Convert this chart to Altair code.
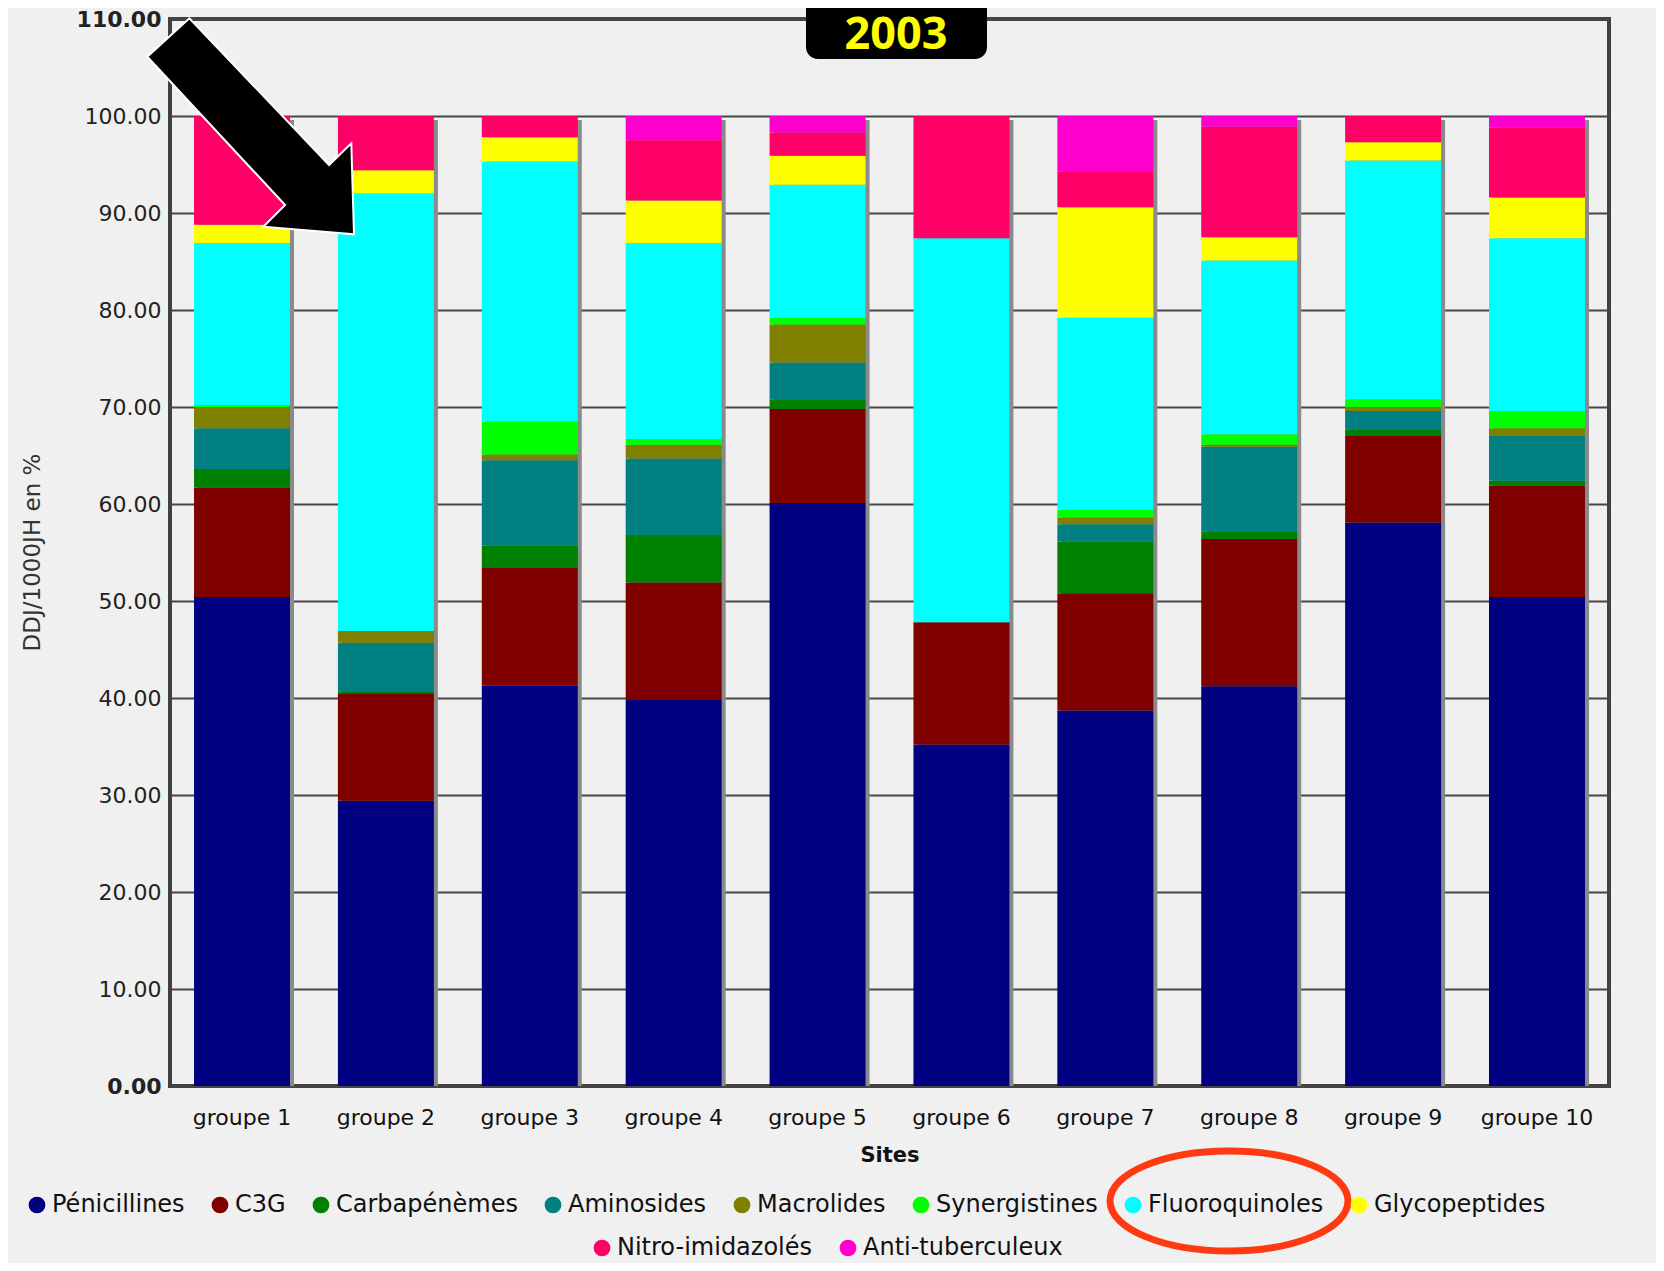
import altair as alt
import pandas as pd

groups = ["groupe 1", "groupe 2", "groupe 3", "groupe 4", "groupe 5",
          "groupe 6", "groupe 7", "groupe 8", "groupe 9", "groupe 10"]
categories = ["Pénicillines", "C3G", "Carbapénèmes", "Aminosides", "Macrolides",
              "Synergistines", "Fluoroquinoles", "Glycopeptides", "Nitro-imidazolés",
              "Anti-tuberculeux"]
colors = ["#000080", "#800000", "#008000", "#008080", "#808000",
          "#00FF00", "#00FFFF", "#FFFF00", "#FF0066", "#FF00CC"]

penicillines = [50.4, 29.4, 41.3, 39.8, 60.1, 35.2, 38.7, 41.2, 58.1, 50.4]
c3g = [11.3, 11.1, 12.1, 12.1, 9.7, 12.6, 12.1, 15.2, 8.9, 11.5]
carbapenemes = [1.9, 0.2, 2.3, 4.9, 1.0, 0.0, 5.3, 0.8, 0.7, 0.5]
aminosides = [4.2, 5.0, 8.8, 7.9, 3.8, 0.0, 1.8, 8.7, 1.9, 4.6]
macrolides = [2.2, 1.2, 0.6, 1.4, 3.9, 0.0, 0.7, 0.2, 0.4, 0.8]
synergistines = [0.2, 0.0, 3.4, 0.6, 0.7, 0.0, 0.8, 1.1, 0.8, 1.8]
fluoroquinoles = [16.7, 45.1, 26.8, 20.2, 13.7, 39.6, 19.8, 17.9, 24.6, 17.8]
glycopeptides = [1.9, 2.4, 2.5, 4.4, 3.0, 0.0, 11.4, 2.4, 1.9, 4.2]
nitro_imidazoles = [11.2, 5.6, 2.2, 6.2, 2.4, 12.6, 3.7, 11.4, 2.7, 7.2]
anti_tuberculeux = [0.0, 0.0, 0.0, 2.5, 1.7, 0.0, 5.7, 1.1, 0.0, 1.2]

y_ticks = [0, 10, 20, 30, 40, 50, 60, 70, 80, 90, 100, 110]
year_label = "2003"

series = [penicillines, c3g, carbapenemes, aminosides, macrolides, synergistines,
          fluoroquinoles, glycopeptides, nitro_imidazoles, anti_tuberculeux]
rows = []
for ci, (cat, vals) in enumerate(zip(categories, series)):
    for g, v in zip(groups, vals):
        rows.append({"groupe": g, "categorie": cat, "ordre": ci, "value": v})
df = pd.DataFrame(rows)
totals = df.groupby("groupe", as_index=False)["value"].sum()
one = pd.DataFrame({"a": [0]})

FONT = "DejaVu Sans"

x_enc = alt.X("groupe:N", sort=groups,
              scale=alt.Scale(paddingInner=0.333, paddingOuter=0.167),
              axis=alt.Axis(title="Sites", labelAngle=0, ticks=False, tickSize=0,
                            domain=False, grid=False, labelFont=FONT,
                            labelFontSize=22, labelColor="#111111",
                            labelBaseline="middle", labelPadding=31,
                            titleFont=FONT, titleFontSize=21, titleFontWeight="bold",
                            titleColor="#111111", titleY=69, titleBaseline="middle"))
y_axis = alt.Axis(title="DDJ/1000JH en %", values=y_ticks, format=".2f",
                  ticks=False, tickSize=0, domain=False,
                  grid=True, gridColor="#474747", gridWidth=2,
                  labelFont=FONT, labelFontSize=22, labelColor="#222222",
                  labelPadding=9,
                  labelFontWeight={"condition": {"test": "datum.value == 0 || datum.value == 110",
                                                 "value": "bold"}, "value": "normal"},
                  titleFont=FONT, titleFontSize=23, titleFontWeight="normal",
                  titleColor="#333333", titleX=-138, titleY=533, titleBaseline="middle")
y_scale = alt.Scale(domain=[0, 110], nice=False)

shadow = alt.Chart(totals).mark_bar(color="#8a8a8a", xOffset=4, yOffset=4, clip=True).encode(
    x=x_enc,
    y=alt.Y("value:Q", scale=y_scale, axis=y_axis),
)

legend_common = dict(title=None, orient="none", direction="horizontal",
                     columnPadding=23, gridAlign="none", symbolType="circle",
                     symbolSize=280, symbolStrokeWidth=0, symbolOpacity=1,
                     labelOffset=3, labelLimit=0, labelFont=FONT, labelFontSize=24,
                     labelColor="#111111")

bars = alt.Chart(df).mark_bar().encode(
    x=x_enc,
    y=alt.Y("value:Q", stack="zero", scale=y_scale, axis=y_axis),
    color=alt.Color("categorie:N",
                    scale=alt.Scale(domain=categories, range=colors),
                    legend=alt.Legend(values=categories[:8], legendX=-145, legendY=1174,
                                      columns=8, **legend_common)),
    order=alt.Order("ordre:Q", sort="ascending"),
)

df2 = df[df["categorie"].isin(categories[8:])]
legend2 = alt.Chart(df2).mark_point(filled=True, opacity=0).encode(
    color=alt.Color("categorie:N",
                    scale=alt.Scale(domain=categories[8:], range=colors[8:]),
                    legend=alt.Legend(legendX=420, legendY=1217, columns=2, **legend_common)),
)

arrow_path = "M -22.7 37.7 L 19.4 -0.7 L 159.1 146 L 181.3 124.3 L 184 215.3 L 93.3 207.7 L 115.1 186 Z"
arrow = alt.Chart(one).mark_point(shape=arrow_path, size=4, filled=True, fill="#000000",
                                  stroke="#FFFFFF", strokeWidth=2, opacity=1).encode(
    x=alt.value(0), y=alt.value(0))

year_box = alt.Chart(one).mark_rect(color="#000000", cornerRadius=12).encode(
    x=alt.value(636), x2=alt.value(817), y=alt.value(-40), y2=alt.value(40))
year_text = alt.Chart(one).mark_text(text=year_label, font="Open Sans", fontWeight="bold",
                                     fontSize=45, color="#FFFF00", align="center",
                                     baseline="middle").encode(
    x=alt.value(726), y=alt.value(16))

ellipse_path = "M -119 0 A 119 50 0 1 0 119 0 A 119 50 0 1 0 -119 0 Z"
ellipse = alt.Chart(one).mark_point(shape=ellipse_path, size=4, filled=False,
                                    stroke="#FF3A12", strokeWidth=7, opacity=1).encode(
    x=alt.value(1059), y=alt.value(1182))

chart = alt.layer(shadow, bars, legend2, arrow, year_box, year_text, ellipse).resolve_scale(
    color="independent"
).properties(
    width=1439, height=1067,
    padding={"left": 162, "top": 11, "right": 47, "bottom": 177},
    autosize=alt.AutoSizeParams(type="none"),
    background="#F0F0F0",
).configure_view(fill="#F8F7F0", stroke="#404040", strokeWidth=4)

chart.save("out.html", embed_options={"renderer": "svg", "actions": False})
